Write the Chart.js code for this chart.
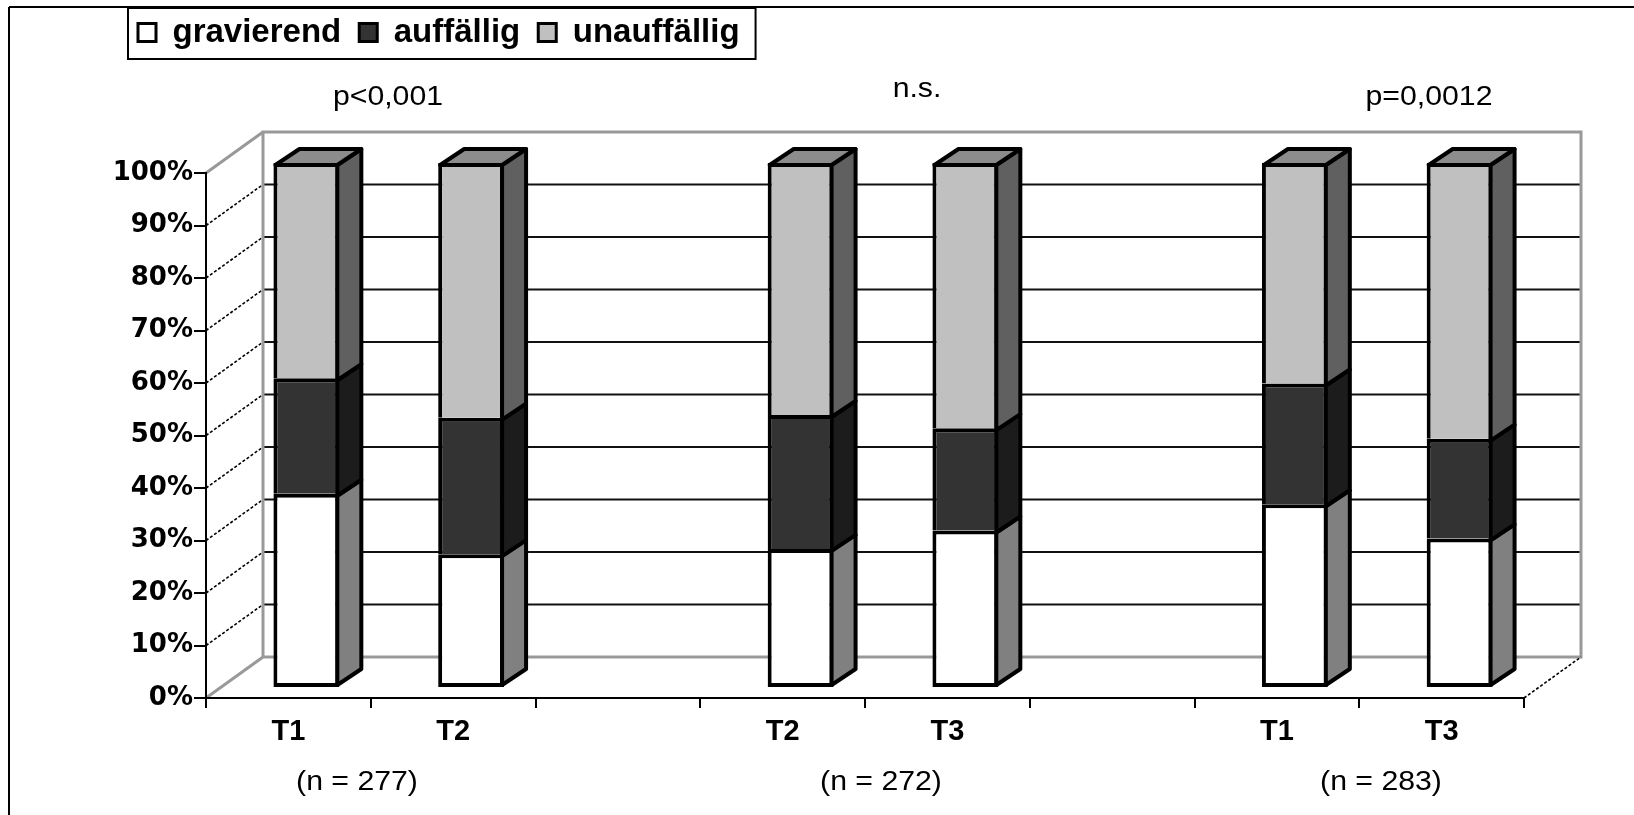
<!DOCTYPE html>
<html>
<head>
<meta charset="utf-8">
<script src="https://cdn.jsdelivr.net/npm/chart.js@4.4.1/dist/chart.umd.min.js"></script>
<style>
  html, body { margin: 0; padding: 0; background: #ffffff; }
  canvas { display: block; }
</style>
</head>
<body>
<canvas id="chart" width="1634" height="815"></canvas>
<script>
// Categories along the x axis (empty slots separate the three comparisons)
const categories = ['T1', 'T2', '', 'T2', 'T3', '', 'T1', 'T3'];
const seriesNames = ['gravierend', 'auffällig', 'unauffällig'];

// Shares in percent per measurement point
const gravierend   = [37, 25.5, null, 26.5, 30, null, 35, 28.5];
const auffaellig   = [22, 26,   null, 25.5, 19.5, null, 23, 19];
const unauffaellig = [41, 48.5, null, 48, 50.5, null, 42, 52.5];

// Axis tick labels
const percentTicks = ['0%', '10%', '20%', '30%', '40%', '50%', '60%', '70%', '80%', '90%', '100%'];

// Group annotations
const groupSizes = ['(n = 277)', '(n = 272)', '(n = 283)'];
const significance = ['p<0,001', 'n.s.', 'p=0,0012'];

// ---- styling ----
const FONT = '"Liberation Sans", Arial, Helvetica, sans-serif';
const WIDE_FONT = '"DejaVu Sans", Verdana, sans-serif';
const FRONT_COLORS = ['#ffffff', '#333333', '#c0c0c0'];
const SIDE_COLORS = ['#808080', '#1c1c1c', '#606060'];
const TOP_COLOR = '#8c8c8c';
const WALL_COLOR = '#999999';
const EDGE = 4;                        // outline width of the columns
const BAR_SHIFT = { x: 18, y: -10 };   // columns sit a little behind the front plane
const BAR_DEPTH = { x: 24, y: -16 };   // thickness of each column
const WALL_DEPTH = { x: 57, y: -41 };  // distance to the back wall

function line(ctx, x1, y1, x2, y2, color, width, dash) {
  ctx.save();
  ctx.beginPath();
  ctx.strokeStyle = color;
  ctx.lineWidth = width;
  ctx.setLineDash(dash || []);
  ctx.moveTo(x1, y1);
  ctx.lineTo(x2, y2);
  ctx.stroke();
  ctx.restore();
}

function poly(ctx, pts, fill) {
  ctx.beginPath();
  ctx.moveTo(pts[0][0], pts[0][1]);
  for (let k = 1; k < pts.length; k++) ctx.lineTo(pts[k][0], pts[k][1]);
  ctx.closePath();
  ctx.fillStyle = fill;
  ctx.fill();
  ctx.stroke();
}

function stretchedText(ctx, text, x, y, font, sx) {
  ctx.save();
  ctx.font = font;
  ctx.fillStyle = '#000';
  ctx.textAlign = 'center';
  ctx.textBaseline = 'middle';
  ctx.translate(x, y);
  ctx.scale(sx, 1);
  ctx.fillText(text, 0, 0);
  ctx.restore();
}

// Walls, floor, 3D column faces, legend frame and annotations
const box3d = {
  id: 'box3d',
  afterLayout(chart) {
    // legend sits in the upper left corner, above the free space
    const lg = chart.legend;
    const h = lg.height;
    lg.top = -2;
    lg.bottom = lg.top + h;
    lg.left = 120;
  },
  beforeDraw(chart) {
    const ctx = chart.ctx;
    ctx.save();
    ctx.fillStyle = '#ffffff';
    ctx.fillRect(0, 0, chart.width, chart.height);
    ctx.restore();

    // outer frame
    line(ctx, 9, 7, chart.width, 7, '#000', 2);
    line(ctx, 9, 7, 9, chart.height, '#000', 2);

    const ys = chart.scales.y;
    const L = chart.chartArea.left, R = chart.chartArea.right;
    const y0 = ys.getPixelForValue(0), y100 = ys.getPixelForValue(100);
    const W = WALL_DEPTH;

    // gridlines on the back wall and dotted guides on the side wall
    ys.ticks.forEach(t => {
      if (t.value <= 0 || t.value >= 100) return;
      const y = ys.getPixelForValue(t.value);
      line(ctx, L + W.x, y + W.y, R + W.x, y + W.y, '#111', 2);
      line(ctx, L, y, L + W.x, y + W.y, '#000', 1.6, [3, 2]);
    });

    // wall edges
    ctx.save();
    ctx.strokeStyle = WALL_COLOR;
    ctx.lineWidth = 3;
    ctx.beginPath();
    ctx.rect(L + W.x, y100 + W.y, R - L, y0 - y100);
    ctx.moveTo(L, y100); ctx.lineTo(L + W.x, y100 + W.y);
    ctx.moveTo(L, y0); ctx.lineTo(L + W.x, y0 + W.y);
    ctx.stroke();
    ctx.restore();
    line(ctx, R, y0, R + W.x, y0 + W.y, '#000', 1.6, [3, 2]);
  },
  beforeDatasetsDraw(chart) {
    chart.ctx.save();
    chart.ctx.translate(BAR_SHIFT.x, BAR_SHIFT.y);
  },
  afterDatasetsDraw(chart) {
    const ctx = chart.ctx;
    ctx.restore();
    ctx.save();
    ctx.translate(BAR_SHIFT.x, BAR_SHIFT.y);
    ctx.strokeStyle = '#000';
    ctx.lineWidth = EDGE;
    ctx.lineJoin = 'round';
    const D = BAR_DEPTH;
    const h = EDGE / 2;
    const n = chart.data.labels.length;
    for (let j = 0; j < n; j++) {
      let top = null;
      chart.data.datasets.forEach((ds, i) => {
        const v = ds.data[j];
        const bar = chart.getDatasetMeta(i).data[j];
        if (v == null || !bar) return;
        const p = bar.getProps(['x', 'y', 'base', 'width'], true);
        const xl = p.x - p.width / 2 + h;
        const xr = p.x + p.width / 2 - h;
        const yt = p.y + h;
        const yb = i === 0 ? p.base - h : p.base + h;
        poly(ctx, [[xr, yt], [xr + D.x, yt + D.y], [xr + D.x, yb + D.y], [xr, yb]], SIDE_COLORS[i]);
        top = { xl, xr, yt };
      });
      if (top) {
        poly(ctx, [[top.xl, top.yt], [top.xl + D.x, top.yt + D.y], [top.xr + D.x, top.yt + D.y], [top.xr, top.yt]], TOP_COLOR);
      }
    }
    ctx.restore();
  },
  afterDraw(chart) {
    const ctx = chart.ctx;
    // legend frame
    const hb = chart.legend.legendHitBoxes;
    if (hb && hb.length) {
      const last = hb[hb.length - 1];
      const x0 = hb[0].left - 10, x1 = last.left + last.width + 16;
      const yA = hb[0].top - 8, yB = hb[0].top + hb[0].height + 10;
      ctx.save();
      ctx.strokeStyle = '#000';
      ctx.lineWidth = 2;
      ctx.strokeRect(x0, yA, x1 - x0, yB - yA);
      ctx.restore();
    }
    // significance and sample sizes
    const regular = '27px ' + FONT;
    const pPos = [[388, 98], [917, 90], [1429, 98]];
    significance.forEach((t, k) => stretchedText(ctx, t, pPos[k][0], pPos[k][1], regular, 1.12));
    const nPos = [357, 881, 1381];
    groupSizes.forEach((t, k) => stretchedText(ctx, t, nPos[k], 783, regular, 1.12));
  }
};

const datasets = [gravierend, auffaellig, unauffaellig].map((data, i) => ({
  label: seriesNames[i],
  data: data,
  backgroundColor: FRONT_COLORS[i],
  borderColor: '#000000',
  borderWidth: EDGE,
  borderSkipped: i === 0 ? false : 'start',
  inflateAmount: 0,
  clip: false,
  stack: 'share',
  categoryPercentage: 1,
  barPercentage: 0.4
}));

new Chart(document.getElementById('chart'), {
  type: 'bar',
  data: { labels: categories, datasets: datasets },
  plugins: [box3d],
  options: {
    responsive: false,
    animation: false,
    events: [],
    layout: { padding: { left: 0, right: 110, top: 112, bottom: 0 } },
    plugins: {
      tooltip: { enabled: false },
      legend: {
        display: true,
        position: 'top',
        align: 'start',
        labels: {
          color: '#000',
          font: { family: FONT, size: 33, weight: 'bold' },
          boxWidth: 18,
          boxHeight: 18,
          padding: 18,
          generateLabels(chart) {
            return Chart.defaults.plugins.legend.labels.generateLabels(chart)
              .map(item => Object.assign(item, { lineWidth: 3, strokeStyle: '#000' }));
          }
        }
      }
    },
    scales: {
      x: {
        stacked: true,
        grid: { offset: true, drawOnChartArea: false, drawTicks: true, tickLength: 10, color: '#000', lineWidth: 2 },
        border: { display: true, color: '#000', width: 2 },
        ticks: { color: '#000', font: { family: FONT, size: 29, weight: 'bold' }, padding: 7, maxRotation: 0, autoSkip: false },
        afterFit(scale) { scale.height = 117; }
      },
      y: {
        stacked: true,
        min: 0,
        max: 100,
        grid: { drawOnChartArea: false, drawTicks: true, tickLength: 12, color: '#000', lineWidth: 2 },
        border: { display: true, color: '#000', width: 2 },
        ticks: {
          stepSize: 10,
          color: '#000',
          font: { family: WIDE_FONT, size: 26, weight: 'bold' },
          padding: 1,
          callback: (v, i) => percentTicks[i]
        },
        afterFit(scale) { scale.width = 206; }
      }
    }
  }
});
</script>
</body>
</html>
